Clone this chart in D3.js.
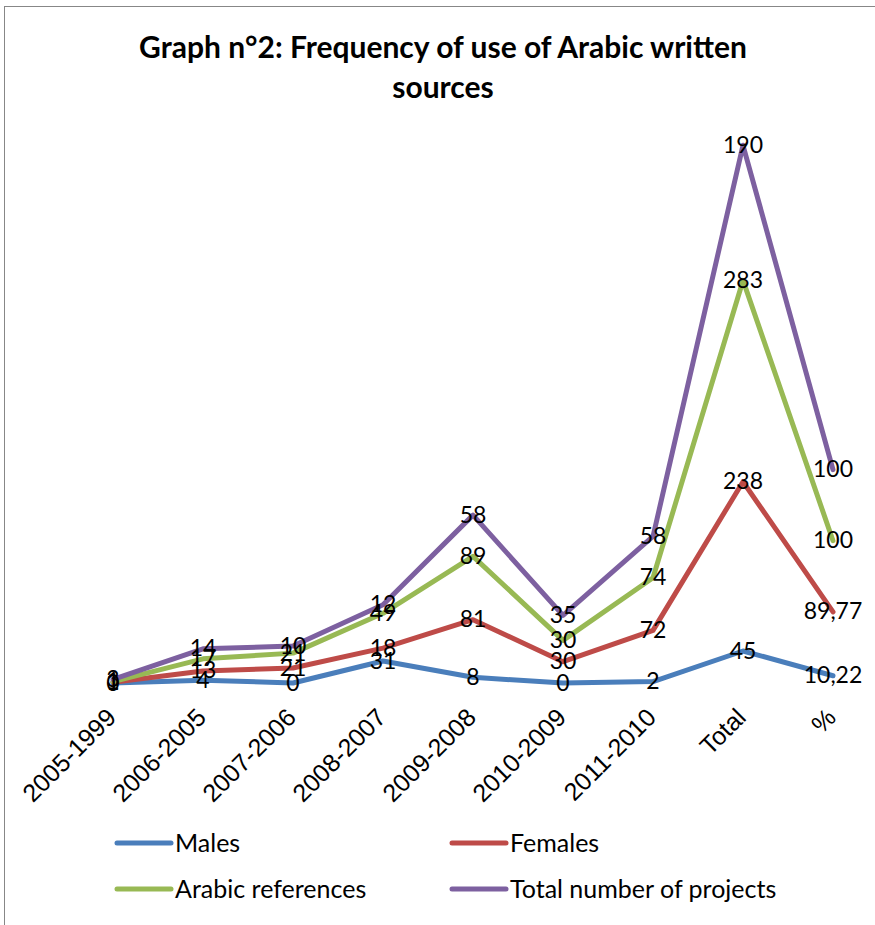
<!DOCTYPE html>
<html>
<head>
<meta charset="utf-8">
<script src="https://cdn.jsdelivr.net/npm/d3@7"></script>
<style>
  html, body { margin: 0; padding: 0; background: #fff; }
  svg { display: block; }
</style>
</head>
<body>
<svg id="chart" width="875" height="925"></svg>
<script>
// Periods along the horizontal axis
const categories = ["2005-1999", "2006-2005", "2007-2006", "2008-2007", "2009-2008",
                    "2010-2009", "2011-2010", "Total", "%"];

// Series values (plotted as a stacked line chart)
const males      = [0, 4, 0, 31, 8, 0, 2, 45, 10.22];
const females    = [1, 13, 21, 18, 81, 30, 72, 238, 89.77];
const arabicRefs = [1, 17, 21, 49, 89, 30, 74, 283, 100];
const totalProj  = [3, 14, 10, 12, 58, 35, 58, 190, 100];

const seriesNames  = ["Males", "Females", "Arabic references", "Total number of projects"];
const seriesColors = ["#4A7EBB", "#BE4B48", "#98B954", "#7D60A0"];
const seriesValues = [males, females, arabicRefs, totalProj];

const yDomain = [0, 800];

const svg = d3.select("#chart");

// Outer chart frame
svg.append("rect")
  .attr("x", 4.5).attr("y", 6.5)
  .attr("width", 900).attr("height", 950)
  .attr("fill", "none").attr("stroke", "#878787").attr("stroke-width", 1);

// Title
const title = svg.append("text")
  .attr("text-anchor", "middle")
  .attr("font-family", "Lato, 'Open Sans', sans-serif")
  .attr("font-weight", "bold")
  .attr("font-size", 30)
  .attr("fill", "#000");
title.append("tspan").attr("x", 443).attr("y", 58).text("Graph n°2: Frequency of use of Arabic written");
title.append("tspan").attr("x", 443).attr("y", 98).text("sources");

// Scales
const x = d3.scalePoint().domain(categories).range([68, 878]).padding(0.5);
const y = d3.scaleLinear().domain(yDomain).range([683, 114]);

// Cumulative (stacked) values per series
const stacked = [];
seriesValues.forEach((vals, i) => {
  stacked.push(vals.map((v, j) => v + (i > 0 ? stacked[i - 1][j] : 0)));
});

// X axis labels (no axis line or ticks)
const xAxis = svg.append("g")
  .attr("transform", "translate(0,683)")
  .call(d3.axisBottom(x).tickSize(0).tickPadding(0));
xAxis.select(".domain").remove();
xAxis.selectAll(".tick text")
  .attr("font-family", "'Liberation Sans', Arial, sans-serif")
  .attr("font-size", 25)
  .attr("fill", "#000")
  .attr("text-anchor", "end")
  .attr("dy", null)
  .attr("y", 0)
  .attr("transform", "translate(4,36) rotate(-45)");

// Lines
const line = d3.line()
  .x((d, j) => x(categories[j]))
  .y(d => y(d));

svg.append("g").selectAll("path")
  .data(stacked)
  .join("path")
  .attr("d", d => line(d))
  .attr("fill", "none")
  .attr("stroke", (d, i) => seriesColors[i])
  .attr("stroke-width", 5)
  .attr("stroke-linejoin", "round")
  .attr("stroke-linecap", "round");

// Data labels showing each series' own value, centred on the stacked point
const fmt = v => Number.isInteger(v) ? String(v) : String(v).replace(".", ",");
const labelG = svg.append("g")
  .attr("font-family", "Lato, 'Open Sans', sans-serif")
  .attr("font-size", 23)
  .attr("fill", "#000")
  .attr("text-anchor", "middle");
seriesValues.forEach((vals, i) => {
  vals.forEach((v, j) => {
    labelG.append("text")
      .attr("x", x(categories[j]))
      .attr("y", y(stacked[i][j]))
      .attr("dy", "0.33em")
      .text(fmt(v));
  });
});

// Legend
const legendPos = [[117, 843], [452, 843], [117, 889], [452, 889]];
const legend = svg.append("g");
seriesNames.forEach((name, i) => {
  const [lx, ly] = legendPos[i];
  legend.append("line")
    .attr("x1", lx).attr("x2", lx + 54)
    .attr("y1", ly).attr("y2", ly)
    .attr("stroke", seriesColors[i])
    .attr("stroke-width", 5)
    .attr("stroke-linecap", "round");
  legend.append("text")
    .attr("x", lx + 58).attr("y", ly)
    .attr("dy", "0.35em")
    .attr("font-family", "Lato, 'Open Sans', sans-serif")
    .attr("font-size", 25)
    .attr("fill", "#000")
    .text(name);
});
</script>
</body>
</html>
